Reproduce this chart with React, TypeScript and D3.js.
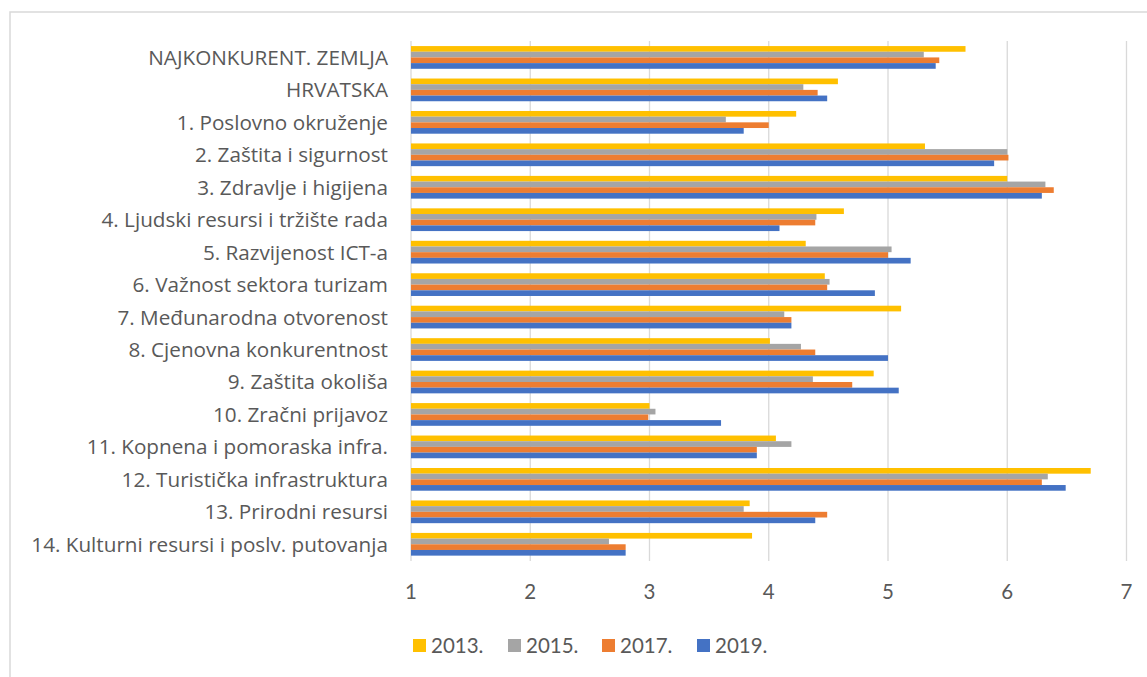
import React from "react";
import * as d3 from "d3";

const categories = [
  "NAJKONKURENT. ZEMLJA",
  "HRVATSKA",
  "1. Poslovno okruženje",
  "2. Zaštita i sigurnost",
  "3. Zdravlje i higijena",
  "4. Ljudski resursi i tržište rada",
  "5. Razvijenost ICT-a",
  "6. Važnost sektora turizam",
  "7. Međunarodna otvorenost",
  "8. Cjenovna konkurentnost",
  "9. Zaštita okoliša",
  "10. Zračni prijavoz",
  "11. Kopnena i pomoraska infra.",
  "12. Turistička infrastruktura",
  "13. Prirodni resursi",
  "14. Kulturni resursi i poslv. putovanja",
];

const seriesNames = ["2013.", "2015.", "2017.", "2019."];
const seriesColors = ["#FFC000", "#A5A5A5", "#ED7D31", "#4472C4"];

const values2013 = [5.65, 4.58, 4.23, 5.31, 6.0, 4.63, 4.31, 4.47, 5.11, 4.01, 4.88, 3.0, 4.06, 6.7, 3.84, 3.86];
const values2015 = [5.3, 4.29, 3.64, 6.0, 6.32, 4.4, 5.03, 4.51, 4.13, 4.27, 4.37, 3.05, 4.19, 6.34, 3.79, 2.66];
const values2017 = [5.43, 4.41, 4.0, 6.01, 6.39, 4.39, 5.0, 4.49, 4.19, 4.39, 4.7, 2.99, 3.9, 6.29, 4.49, 2.8];
const values2019 = [5.4, 4.49, 3.79, 5.89, 6.29, 4.09, 5.19, 4.89, 4.19, 5.0, 5.09, 3.6, 3.9, 6.49, 4.39, 2.8];

const xTicks = [1, 2, 3, 4, 5, 6, 7];

const FONT = "'Open Sans', Lato, sans-serif";
const FONT2 = "Lato, 'Open Sans', sans-serif";
const TEXT_COLOR = "#595959";

export default function App() {
  const W = 1147;
  const H = 677;
  const x = d3.scaleLinear().domain([1, 7]).range([411, 1126.5]);
  const y = d3.scaleBand<string>().domain(categories).range([41.2, 560.5]).paddingInner(0).paddingOuter(0);
  const groupFrac = 0.7;
  const inner = d3
    .scaleBand<string>()
    .domain(seriesNames)
    .range([0, y.bandwidth() * groupFrac]);
  const allSeries = [values2013, values2015, values2017, values2019];
  const groupOffset = (y.bandwidth() * (1 - groupFrac)) / 2;

  const legendX = [413, 508, 602, 697];

  return (
    <svg
      width={W}
      height={H}
      style={{ position: "absolute", left: 0, top: 0, background: "#fff" }}
    >
      <rect x={0} y={0} width={W} height={H} fill="#fff" />
      <rect x={10} y={12} width={1200} height={720} fill="#fff" stroke="#d9d9d9" strokeWidth={1.5} />
      {/* gridlines */}
      {xTicks.map((t) => (
        <line
          key={"g" + t}
          x1={x(t)}
          x2={x(t)}
          y1={41}
          y2={561}
          stroke="#d9d9d9"
          strokeWidth={1.3}
        />
      ))}
      {/* bars */}
      {categories.map((c, i) => (
        <g key={c} transform={`translate(0,${(y(c) ?? 0) + groupOffset})`}>
          {allSeries.map((s, j) => (
            <rect
              key={j}
              x={x(1)}
              y={inner(seriesNames[j]) ?? 0}
              width={x(s[i]) - x(1)}
              height={inner.bandwidth()}
              fill={seriesColors[j]}
            />
          ))}
        </g>
      ))}
      {/* category labels */}
      {categories.map((c) => (
        <text
          key={"l" + c}
          x={388}
          y={(y(c) ?? 0) + y.bandwidth() / 2}
          dy="0.36em"
          textAnchor="end"
          fontFamily={FONT}
          fontSize={20.7}
          fill={TEXT_COLOR}
        >
          {c}
        </text>
      ))}
      {/* tick labels */}
      {xTicks.map((t) => (
        <text
          key={"t" + t}
          x={x(t)}
          y={592}
          dy="0.36em"
          textAnchor="middle"
          fontFamily={FONT2}
          fontSize={20.5}
          fill={TEXT_COLOR}
        >
          {t}
        </text>
      ))}
      {/* legend */}
      {seriesNames.map((n, j) => (
        <g key={"lg" + n} transform={`translate(${legendX[j]},0)`}>
          <rect x={0} y={639} width={13} height={13} fill={seriesColors[j]} />
          <text
            x={18}
            y={645.5}
            dy="0.36em"
            fontFamily={FONT2}
            fontSize={20.5}
            fill={TEXT_COLOR}
          >
            {n}
          </text>
        </g>
      ))}
    </svg>
  );
}
